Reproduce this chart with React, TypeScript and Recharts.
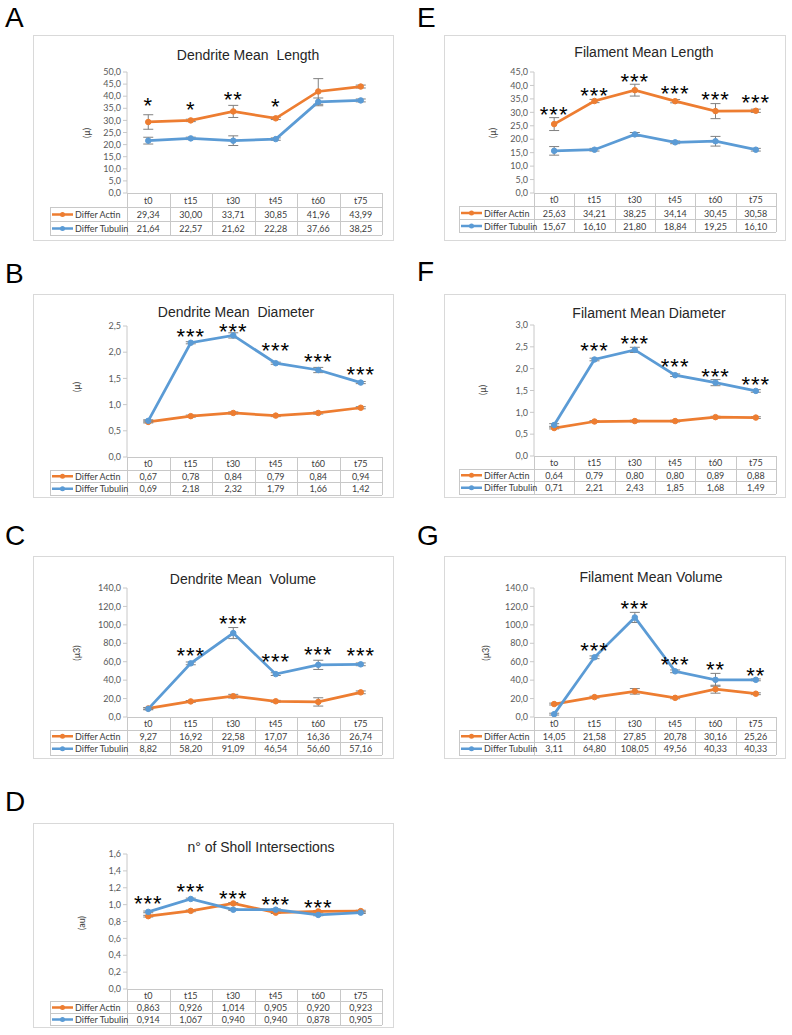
import { LineChart, Line, XAxis, YAxis, ErrorBar, LabelList } from 'recharts';

// categories (panel F really reads "to" on the first column)
const categories = ['t0', 't15', 't30', 't45', 't60', 't75'];
const categoriesF = ['to', 't15', 't30', 't45', 't60', 't75'];

// A - Dendrite Mean Length
const dLengthActin = [29.34, 30.0, 33.71, 30.85, 41.96, 43.99];
const dLengthTubulin = [21.64, 22.57, 21.62, 22.28, 37.66, 38.25];
const dLengthActinErr = [3.0, 0.5, 2.5, 0.5, 5.3, 0.6];
const dLengthTubulinErr = [1.4, 0.5, 2.0, 0.5, 1.6, 0.6];
const dLengthStars = ['*', '*', '**', '*', '', ''];
const dLengthStarY = [38.4, 36.6, 40.8, 37.7, null, null];

// B - Dendrite Mean Diameter
const dDiamActin = [0.67, 0.78, 0.84, 0.79, 0.84, 0.94];
const dDiamTubulin = [0.69, 2.18, 2.32, 1.79, 1.66, 1.42];
const dDiamActinErr = [0.02, 0.02, 0.02, 0.02, 0.02, 0.02];
const dDiamTubulinErr = [0.02, 0.02, 0.05, 0.02, 0.05, 0.02];
const dDiamStars = ['', '***', '***', '***', '***', '***'];
const dDiamStarY = [null, 2.39, 2.49, 2.12, 1.91, 1.67];

// C - Dendrite Mean Volume
const dVolActin = [9.27, 16.92, 22.58, 17.07, 16.36, 26.74];
const dVolTubulin = [8.82, 58.2, 91.09, 46.54, 56.6, 57.16];
const dVolActinErr = [1.0, 1.0, 2.0, 1.0, 4.5, 1.5];
const dVolTubulinErr = [1.0, 1.5, 6.0, 1.5, 5.0, 1.5];
const dVolStars = ['', '***', '***', '***', '***', '***'];
const dVolStarY = [null, 72, 107, 65.5, 73.5, 72];

// D - n° of Sholl Intersections
const shollActin = [0.863, 0.926, 1.014, 0.905, 0.92, 0.923];
const shollTubulin = [0.914, 1.067, 0.94, 0.94, 0.878, 0.905];
const shollActinErr = [0.01, 0.01, 0.01, 0.01, 0.01, 0.01];
const shollTubulinErr = [0.01, 0.01, 0.01, 0.01, 0.01, 0.01];
const shollStars = ['***', '***', '***', '***', '***', ''];
const shollStarY = [1.075, 1.21, 1.13, 1.06, 1.02, null];

// E - Filament Mean Length
const fLengthActin = [25.63, 34.21, 38.25, 34.14, 30.45, 30.58];
const fLengthTubulin = [15.67, 16.1, 21.8, 18.84, 19.25, 16.1];
const fLengthActinErr = [2.4, 0.6, 2.2, 0.6, 2.8, 0.6];
const fLengthTubulinErr = [1.6, 0.5, 0.7, 0.5, 1.8, 0.5];
const fLengthStars = ['***', '***', '***', '***', '***', '***'];
const fLengthStarY = [30.9, 38.3, 43.5, 38.7, 36.8, 35.4];

// F - Filament Mean Diameter
const fDiamActin = [0.64, 0.79, 0.8, 0.8, 0.89, 0.88];
const fDiamTubulin = [0.71, 2.21, 2.43, 1.85, 1.68, 1.49];
const fDiamActinErr = [0.02, 0.02, 0.02, 0.02, 0.02, 0.02];
const fDiamTubulinErr = [0.03, 0.03, 0.06, 0.03, 0.07, 0.03];
const fDiamStars = ['', '***', '***', '***', '***', '***'];
const fDiamStarY = [null, 2.52, 2.69, 2.16, 1.93, 1.76];

// G - Filament Mean Volume
const fVolActin = [14.05, 21.58, 27.85, 20.78, 30.16, 25.26];
const fVolTubulin = [3.11, 64.8, 108.05, 49.56, 40.33, 40.33];
const fVolActinErr = [1.0, 1.0, 3.0, 1.0, 4.3, 1.0];
const fVolTubulinErr = [1.0, 1.5, 5.5, 1.5, 7.0, 1.0];
const fVolStars = ['', '***', '***', '***', '**', '**'];
const fVolStarY = [null, 78, 122.7, 62, 56.5, 51];

const ORANGE = '#ED7D31';
const BLUE = '#5B9BD5';
const GRID = '#C8C8C8';
const TXT = '#404040';
const SMALL_FONT = 'Lato, "Open Sans", sans-serif';
const TITLE_FONT = '"Liberation Sans", Arial, sans-serif';
const Y_AXIS_W = 60;

const fmt = (v: number, d: number) => v.toFixed(d).replace('.', ',');

const StarLabel = (props: any) => {
  const { x, y, value } = props;
  if (!value || y == null || Number.isNaN(y)) return null;
  return (
    <text
      x={x}
      y={y + 12.5}
      textAnchor="middle"
      fontSize={22}
      letterSpacing={1}
      fontFamily={TITLE_FONT}
      fill="#000"
    >
      {value}
    </text>
  );
};

type PanelProps = {
  letter: string;
  letterX: number;
  letterY: number;
  title: string;
  titleX: number;
  titleY: number;
  yLabel: string;
  yLabelX: number;
  yLabelY: number;
  bx: number;
  by: number;
  bw: number;
  bh: number;
  axisX: number;
  tableLeft: number;
  tableRight: number;
  plotTop: number;
  plotBottom: number;
  rowH: number;
  cats: string[];
  actin: number[];
  tubulin: number[];
  actinErr: number[];
  tubulinErr: number[];
  stars: string[];
  starY: (number | null)[];
  yMax: number;
  yStep: number;
  decimals: number;
};

function LegendIcon({ color }: { color: string }) {
  return (
    <g>
      <line x1={2} x2={23} y1={0} y2={0} stroke={color} strokeWidth={2.5} />
      <circle cx={12.5} cy={0} r={2.5} fill={color} />
    </g>
  );
}

function Panel(p: PanelProps) {
  const rows = p.cats.map((cat, i) => ({
    cat,
    actin: p.actin[i],
    tubulin: p.tubulin[i],
    actinErr: p.actinErr[i],
    tubulinErr: p.tubulinErr[i],
    starY: p.starY[i],
    star: p.stars[i],
  }));
  const band = (p.tableRight - p.axisX) / 6;
  const ticks: number[] = [];
  for (let i = 0; i <= Math.round(p.yMax / p.yStep); i++) ticks.push(+(i * p.yStep).toFixed(3));
  const tw = p.tableRight - p.tableLeft;
  const legW = p.axisX - p.tableLeft;
  const th = p.rowH * 3;

  return (
    <>
      <div
        style={{
          position: 'absolute',
          left: p.letterX,
          top: p.letterY,
          fontFamily: TITLE_FONT,
          fontSize: 28,
          lineHeight: '28px',
          color: '#000',
        }}
      >
        {p.letter}
      </div>
      <div
        style={{
          position: 'absolute',
          left: p.bx,
          top: p.by,
          width: p.bw,
          height: p.bh,
          boxSizing: 'border-box',
          border: '1px solid #D9D9D9',
          background: '#fff',
        }}
      />
      <div
        style={{
          position: 'absolute',
          left: p.titleX - 150,
          width: 300,
          top: p.titleY - 9,
          textAlign: 'center',
          fontFamily: TITLE_FONT,
          fontSize: 14,
          lineHeight: '18px',
          color: '#262626',
          whiteSpace: 'pre',
        }}
      >
        {p.title}
      </div>
      <div
        style={{
          position: 'absolute',
          left: p.yLabelX - 20,
          top: p.yLabelY - 6,
          width: 40,
          textAlign: 'center',
          fontFamily: SMALL_FONT,
          fontSize: 9,
          lineHeight: '12px',
          color: TXT,
          transform: 'rotate(-90deg)',
        }}
      >
        {p.yLabel}
      </div>
      <div style={{ position: 'absolute', left: p.bx, top: p.by }}>
        <LineChart
          width={p.bw}
          height={p.bh}
          data={rows}
          margin={{
            top: p.plotTop - p.by,
            bottom: p.by + p.bh - p.plotBottom,
            left: p.axisX - p.bx - Y_AXIS_W,
            right: p.bx + p.bw - p.tableRight,
          }}
        >
          <XAxis dataKey="cat" hide padding={{ left: band / 2, right: band / 2 }} />
          <YAxis
            width={Y_AXIS_W}
            domain={[0, p.yMax]}
            ticks={ticks}
            interval={0}
            allowDataOverflow
            tickFormatter={(v: number) => fmt(v, 1)}
            axisLine={{ stroke: GRID }}
            tickLine={{ stroke: GRID }}
            tickSize={4}
            tick={{ fontSize: 9, fill: '#595959', fontFamily: SMALL_FONT }}
          />
          <Line
            dataKey="actin"
            stroke={ORANGE}
            strokeWidth={2.75}
            dot={{ r: 2.75, fill: ORANGE, stroke: ORANGE, strokeWidth: 1 }}
            activeDot={false}
            isAnimationActive={false}
          >
            <ErrorBar dataKey="actinErr" width={5} stroke="#808080" strokeWidth={1} direction="y" />
          </Line>
          <Line
            dataKey="tubulin"
            stroke={BLUE}
            strokeWidth={2.75}
            dot={{ r: 2.75, fill: BLUE, stroke: BLUE, strokeWidth: 1 }}
            activeDot={false}
            isAnimationActive={false}
          >
            <ErrorBar dataKey="tubulinErr" width={5} stroke="#808080" strokeWidth={1} direction="y" />
          </Line>
          <Line
            dataKey="starY"
            stroke="none"
            dot={false}
            activeDot={false}
            legendType="none"
            isAnimationActive={false}
          >
            <LabelList dataKey="star" content={StarLabel} />
          </Line>
        </LineChart>
      </div>
      <svg
        style={{ position: 'absolute', left: p.tableLeft, top: p.plotBottom, overflow: 'visible' }}
        width={tw + 1}
        height={th + 1}
      >
        <g stroke={GRID} strokeWidth={1} shapeRendering="crispEdges">
          <line x1={legW} x2={tw} y1={0.5} y2={0.5} />
          <line x1={0} x2={tw} y1={p.rowH + 0.5} y2={p.rowH + 0.5} />
          <line x1={0} x2={tw} y1={2 * p.rowH + 0.5} y2={2 * p.rowH + 0.5} />
          <line x1={0} x2={tw} y1={th + 0.5} y2={th + 0.5} />
          <line x1={0.5} x2={0.5} y1={p.rowH} y2={th} />
          {Array.from({ length: 7 }, (_, i) => (
            <line key={i} x1={legW + i * band + 0.5} x2={legW + i * band + 0.5} y1={0} y2={th} />
          ))}
        </g>
        {p.cats.map((c, i) => (
          <text
            key={'h' + i}
            x={legW + (i + 0.5) * band}
            y={p.rowH / 2 + 3.5}
            textAnchor="middle"
            fontSize={9}
            fontFamily={SMALL_FONT}
            fill={TXT}
          >
            {c}
          </text>
        ))}
        {[
          { name: 'Differ Actin', color: ORANGE, vals: p.actin },
          { name: 'Differ Tubulin', color: BLUE, vals: p.tubulin },
        ].map((s, r) => {
          const cy = (r + 1.5) * p.rowH + 0.5;
          return (
            <g key={s.name}>
              <g transform={`translate(0, ${cy})`}>
                <LegendIcon color={s.color} />
              </g>
              <text x={25} y={cy + 3.5} fontSize={9} fontFamily={SMALL_FONT} fill={TXT}>
                {s.name}
              </text>
              {s.vals.map((v, i) => (
                <text
                  key={i}
                  x={legW + (i + 0.5) * band}
                  y={cy + 3.5}
                  textAnchor="middle"
                  fontSize={9}
                  fontFamily={SMALL_FONT}
                  fill={TXT}
                >
                  {fmt(v, p.decimals)}
                </text>
              ))}
            </g>
          );
        })}
      </svg>
    </>
  );
}

const LEFT = { bx: 33, bw: 361, axisX: 127, tableLeft: 50, tableRight: 382 };
const RIGHT = { bx: 444, bw: 342, axisX: 534, tableLeft: 459, tableRight: 776 };

export default function App() {
  return (
    <div style={{ position: 'absolute', left: 0, top: 0, width: 792, height: 1035, background: '#fff' }}>
      <Panel
        {...LEFT}
        letter="A"
        letterX={5}
        letterY={4}
        title="Dendrite Mean  Length"
        titleX={248}
        titleY={55}
        yLabel="(μ)"
        yLabelX={87}
        yLabelY={133}
        by={35}
        bh={206}
        plotTop={72}
        plotBottom={193}
        rowH={14}
        cats={categories}
        actin={dLengthActin}
        tubulin={dLengthTubulin}
        actinErr={dLengthActinErr}
        tubulinErr={dLengthTubulinErr}
        stars={dLengthStars}
        starY={dLengthStarY}
        yMax={50}
        yStep={5}
        decimals={2}
      />
      <Panel
        {...LEFT}
        letter="B"
        letterX={5}
        letterY={260}
        title="Dendrite Mean  Diameter"
        titleX={236}
        titleY={312}
        yLabel="(μ)"
        yLabelX={77}
        yLabelY={387}
        by={294}
        bh={204}
        plotTop={326}
        plotBottom={457}
        rowH={12.5}
        cats={categories}
        actin={dDiamActin}
        tubulin={dDiamTubulin}
        actinErr={dDiamActinErr}
        tubulinErr={dDiamTubulinErr}
        stars={dDiamStars}
        starY={dDiamStarY}
        yMax={2.5}
        yStep={0.5}
        decimals={2}
      />
      <Panel
        {...LEFT}
        letter="C"
        letterX={5}
        letterY={522}
        title="Dendrite Mean  Volume"
        titleX={243}
        titleY={579}
        yLabel="(μ3)"
        yLabelX={77}
        yLabelY={653}
        by={556}
        bh={203}
        plotTop={588}
        plotBottom={717}
        rowH={12.5}
        cats={categories}
        actin={dVolActin}
        tubulin={dVolTubulin}
        actinErr={dVolActinErr}
        tubulinErr={dVolTubulinErr}
        stars={dVolStars}
        starY={dVolStarY}
        yMax={140}
        yStep={20}
        decimals={2}
      />
      <Panel
        {...LEFT}
        letter="D"
        letterX={5}
        letterY={788}
        title="n° of Sholl Intersections"
        titleX={261}
        titleY={847}
        yLabel="(au)"
        yLabelX={82}
        yLabelY={923}
        by={823}
        bh={205}
        plotTop={854}
        plotBottom={989}
        rowH={12}
        cats={categories}
        actin={shollActin}
        tubulin={shollTubulin}
        actinErr={shollActinErr}
        tubulinErr={shollTubulinErr}
        stars={shollStars}
        starY={shollStarY}
        yMax={1.6}
        yStep={0.2}
        decimals={3}
      />
      <Panel
        {...RIGHT}
        letter="E"
        letterX={417}
        letterY={4}
        title="Filament Mean Length"
        titleX={644}
        titleY={52}
        yLabel="(μ)"
        yLabelX={493}
        yLabelY={133}
        by={35}
        bh={206}
        plotTop={72}
        plotBottom={193}
        rowH={13}
        cats={categories}
        actin={fLengthActin}
        tubulin={fLengthTubulin}
        actinErr={fLengthActinErr}
        tubulinErr={fLengthTubulinErr}
        stars={fLengthStars}
        starY={fLengthStarY}
        yMax={45}
        yStep={5}
        decimals={2}
      />
      <Panel
        {...RIGHT}
        letter="F"
        letterX={417}
        letterY={258}
        title="Filament Mean Diameter"
        titleX={649}
        titleY={313}
        yLabel="(μ)"
        yLabelX={483}
        yLabelY={390}
        by={294}
        bh={204}
        plotTop={325}
        plotBottom={456}
        rowH={12.5}
        cats={categoriesF}
        actin={fDiamActin}
        tubulin={fDiamTubulin}
        actinErr={fDiamActinErr}
        tubulinErr={fDiamTubulinErr}
        stars={fDiamStars}
        starY={fDiamStarY}
        yMax={3}
        yStep={0.5}
        decimals={2}
      />
      <Panel
        {...RIGHT}
        letter="G"
        letterX={417}
        letterY={522}
        title="Filament Mean Volume"
        titleX={651}
        titleY={577}
        yLabel="(μ3)"
        yLabelX={486}
        yLabelY={653}
        by={556}
        bh={203}
        plotTop={588}
        plotBottom={717}
        rowH={12.5}
        cats={categories}
        actin={fVolActin}
        tubulin={fVolTubulin}
        actinErr={fVolActinErr}
        tubulinErr={fVolTubulinErr}
        stars={fVolStars}
        starY={fVolStarY}
        yMax={140}
        yStep={20}
        decimals={2}
      />
    </div>
  );
}
